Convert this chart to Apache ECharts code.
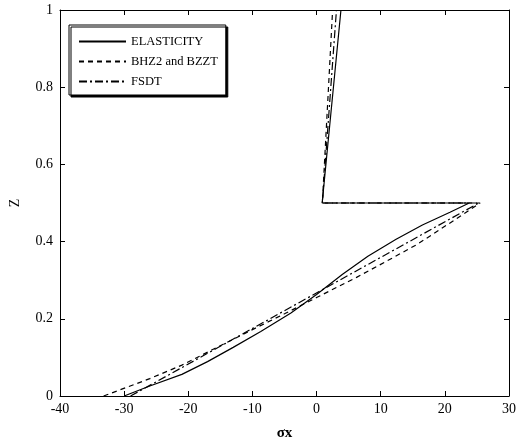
<!DOCTYPE html>
<html>
<head>
<meta charset="utf-8">
<script src="https://cdn.jsdelivr.net/npm/echarts@6/dist/echarts.min.js"></script>
<style>
  html, body { margin: 0; padding: 0; background: #fff; }
  #chart { width: 519px; height: 446px; }
</style>
</head>
<body>
<div id="chart"></div>
<script>
// sigma_x vs Z
var seriesNames = ['ELASTICITY', 'BHZ2 and BZZT', 'FSDT'];

var elasticity = [
    [-30, 0], [-26, 0.026], [-21, 0.056], [-17, 0.089], [-13, 0.126],
    [-8.7, 0.167], [-4, 0.215], [0, 0.263], [4, 0.315], [8, 0.362],
    [12.4, 0.406], [16.5, 0.443], [20.8, 0.476], [23.8, 0.5],
    [0.87, 0.5], [3.8, 1]
];
var bhz2 = [
    [-33.2, 0], [-26, 0.045], [-21, 0.08], [-17.9, 0.106], [-10, 0.172],
    [-5, 0.213], [0, 0.255], [6.3, 0.308], [11, 0.35], [15.7, 0.393],
    [20.5, 0.445], [25.5, 0.5],
    [0.9, 0.5], [2.5, 1]
];
var fsdt = [
    [-29, 0], [25.3, 0.5],
    [0.9, 0.5], [3.1, 1]
];

var font = 'Liberation Serif';

var chart = echarts.init(document.getElementById('chart'));

var axisCommon = {
    type: 'value',
    axisLine: { show: true, onZero: false, lineStyle: { color: '#000', width: 1 } },
    axisTick: { show: true, inside: true, length: 5, lineStyle: { color: '#000' } },
    splitLine: { show: false }
};

var lineSeries = function (name, data, type) {
    return {
        name: name,
        type: 'line',
        data: data,
        symbol: 'none',
        silent: true,
        animation: false,
        itemStyle: { color: '#000' },
        lineStyle: { color: '#000', width: 1.2, type: type }
    };
};

var option = {
    backgroundColor: '#fff',
    animation: false,
    grid: { left: 54, right: 7, top: 10, bottom: 46 },
    legend: {
        orient: 'vertical',
        left: 69,
        top: 25,
        padding: [10, 8, 7, 9],
        itemGap: 7,
        itemWidth: 47,
        itemHeight: 14,
        backgroundColor: '#fff',
        borderColor: '#000',
        borderWidth: 1,
        borderRadius: 0,
        shadowColor: '#000',
        shadowOffsetX: 2,
        shadowOffsetY: 2,
        shadowBlur: 0,
        itemStyle: { opacity: 0 },
        textStyle: { fontFamily: font, fontSize: 12.5, color: '#000' },
        data: seriesNames
    },
    xAxis: [
        Object.assign({}, axisCommon, {
            position: 'bottom',
            min: -40, max: 30, interval: 10,
            name: 'σx',
            nameLocation: 'middle',
            nameGap: 30,
            nameTextStyle: { fontFamily: font, fontSize: 15, fontWeight: 'bold', color: '#000' },
            axisLabel: { fontFamily: font, fontSize: 14, color: '#000', margin: 6 }
        }),
        Object.assign({}, axisCommon, {
            position: 'top',
            min: -40, max: 30, interval: 10,
            axisLabel: { show: false }
        })
    ],
    yAxis: [
        Object.assign({}, axisCommon, {
            position: 'left',
            min: 0, max: 1, interval: 0.2,
            name: 'Z',
            nameLocation: 'middle',
            nameGap: 38,
            nameTextStyle: { fontFamily: font, fontSize: 14, color: '#000' },
            axisLabel: { fontFamily: font, fontSize: 14, color: '#000', margin: 7 }
        }),
        Object.assign({}, axisCommon, {
            position: 'right',
            min: 0, max: 1, interval: 0.2,
            axisLabel: { show: false }
        })
    ],
    series: [
        lineSeries(seriesNames[0], elasticity, 'solid'),
        lineSeries(seriesNames[1], bhz2, [5, 4]),
        lineSeries(seriesNames[2], fsdt, [8, 3, 2, 3])
    ]
};

chart.setOption(option);
</script>
</body>
</html>
